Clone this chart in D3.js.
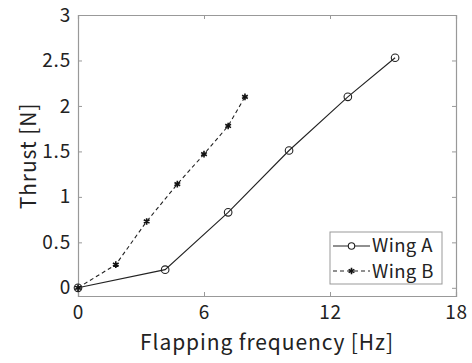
<html>
<head>
<script src="https://d3js.org/d3.v7.min.js"></script>
<style>
  body { margin: 0; background: white; }
  text { font-family: "Noto Sans CJK JP", "Noto Sans", sans-serif; fill: #222; }
</style>
</head>
<body>
<svg id="chart" width="472" height="363"></svg>
<script>
  // data
  const wingAfreq = [0, 4.15, 7.15, 10.05, 12.85, 15.1];
  const wingAthrust = [0, 0.2, 0.83, 1.51, 2.1, 2.53];
  const wingBfreq = [0, 1.8, 3.27, 4.73, 6.0, 7.15, 7.95];
  const wingBthrust = [0, 0.255, 0.73, 1.14, 1.47, 1.78, 2.1];
  const xTicks = [0, 6, 12, 18];
  const yTicks = [0, 0.5, 1, 1.5, 2, 2.5, 3];

  const svg = d3.select("#chart");
  const margin = {top: 15, right: 16, bottom: 67, left: 78};
  const width = 472 - margin.left - margin.right;
  const height = 363 - margin.top - margin.bottom;
  const g = svg.append("g").attr("transform", "translate(" + margin.left + "," + margin.top + ")");

  const x = d3.scaleLinear().domain([0, 18]).range([0, width]);
  const y = d3.scaleLinear().domain([-0.09, 3]).range([height, 0]);

  const boxColor = "#999";
  const tickFmt = d => d3.format("")(d);

  // axes, ticks inward
  const xb = g.append("g").attr("transform", "translate(0," + height + ")")
    .call(d3.axisBottom(x).tickValues(xTicks).tickSize(-4).tickPadding(10).tickFormat(tickFmt));
  const xt = g.append("g")
    .call(d3.axisTop(x).tickValues(xTicks).tickSize(-4).tickFormat(""));
  const yl = g.append("g")
    .call(d3.axisLeft(y).tickValues(yTicks).tickSize(-4).tickPadding(7).tickFormat(tickFmt));
  const yr = g.append("g").attr("transform", "translate(" + width + ",0)")
    .call(d3.axisRight(y).tickValues(yTicks).tickSize(-4).tickFormat(""));

  [xb, xt, yl, yr].forEach(a => {
    a.selectAll("path").attr("stroke", boxColor).attr("stroke-width", 1.2);
    a.selectAll("line").attr("stroke", boxColor);
    a.selectAll("text").attr("font-size", 19).attr("letter-spacing", 0.8)
      .style("font-family", '"Noto Sans CJK JP", sans-serif').attr("fill", "#222");
  });

  // axis labels
  svg.append("text")
    .attr("x", margin.left + width / 2).attr("y", 350)
    .attr("text-anchor", "middle").attr("font-size", 21).attr("letter-spacing", 0.9)
    .text("Flapping frequency [Hz]");
  svg.append("text")
    .attr("transform", "translate(36,156) rotate(-90)")
    .attr("text-anchor", "middle").attr("font-size", 21).attr("letter-spacing", 0.9)
    .text("Thrust [N]");

  const line = d3.line().x(d => x(d[0])).y(d => y(d[1]));
  const dataA = wingAfreq.map((f, i) => [f, wingAthrust[i]]);
  const dataB = wingBfreq.map((f, i) => [f, wingBthrust[i]]);

  g.append("path").datum(dataB)
    .attr("fill", "none").attr("stroke", "#222").attr("stroke-width", 1.1)
    .attr("stroke-dasharray", "4,3").attr("d", line);
  g.append("path").datum(dataA)
    .attr("fill", "none").attr("stroke", "#222").attr("stroke-width", 1.1).attr("d", line);

  const star = d3.symbol().type(d3.symbolAsterisk).size(30);
  function drawStar(sel, cx, cy) {
    sel.append("path").attr("d", star())
      .attr("transform", "translate(" + cx + "," + cy + ")")
      .attr("fill", "none").attr("stroke", "#111").attr("stroke-width", 1.6);
  }

  dataB.forEach(d => drawStar(g, x(d[0]), y(d[1])));
  g.selectAll("circle.a").data(dataA).join("circle")
    .attr("class", "a")
    .attr("cx", d => x(d[0])).attr("cy", d => y(d[1])).attr("r", 3.8)
    .attr("fill", "none").attr("stroke", "#222").attr("stroke-width", 1.1);

  // legend
  const lg = svg.append("g").attr("transform", "translate(330,232)");
  lg.append("rect").attr("width", 112).attr("height", 52)
    .attr("fill", "white").attr("stroke", boxColor).attr("stroke-width", 1);
  lg.append("line").attr("x1", 3).attr("x2", 40).attr("y1", 14).attr("y2", 14)
    .attr("stroke", "#222").attr("stroke-width", 1.1);
  lg.append("circle").attr("cx", 21.5).attr("cy", 14).attr("r", 3.2)
    .attr("fill", "white").attr("stroke", "#222").attr("stroke-width", 1.1);
  lg.append("text").attr("x", 42).attr("y", 20).attr("font-size", 18.5).attr("letter-spacing", 0.4).text("Wing A");
  lg.append("line").attr("x1", 3).attr("x2", 40).attr("y1", 39).attr("y2", 39)
    .attr("stroke", "#222").attr("stroke-width", 1.1).attr("stroke-dasharray", "4,3");
  drawStar(lg, 21.5, 39);
  lg.append("text").attr("x", 42).attr("y", 46).attr("font-size", 18.5).attr("letter-spacing", 0.4).text("Wing B");
</script>
</body>
</html>
